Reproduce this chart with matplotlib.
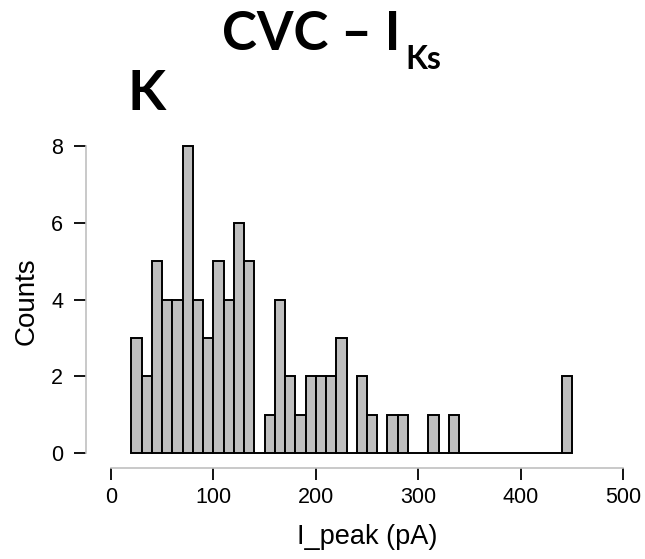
import numpy as np
import matplotlib.pyplot as plt

# histogram of peak current, 10 pA bins starting at 20 pA
bin_left = np.arange(20, 450, 10)
counts = [3, 2, 5, 4, 4, 8, 4, 3, 5, 4, 6, 5, 0, 1, 4, 2, 1, 2, 2, 2,
          3, 0, 2, 1, 0, 1, 1, 0, 0, 1, 0, 1, 0, 0, 0, 0, 0, 0, 0, 0,
          0, 0, 2]
x_ticks = [0, 100, 200, 300, 400, 500]
y_ticks = [0, 2, 4, 6, 8]

plt.rcParams['font.family'] = ['Liberation Sans', 'DejaVu Sans']

fig = plt.figure(figsize=(6.45, 5.59), dpi=100)
ax = fig.add_axes([86 / 645, 0.1628, 0.8643, 0.5966])

ax.bar(bin_left, counts, width=10, align='edge', color='#bebebe',
       edgecolor='black', linewidth=1.4)

ax.set_xlim(-24.4, 520)
ax.set_ylim(-0.39, 8.3)
ax.set_xticks(x_ticks)
ax.set_yticks(y_ticks)
ax.spines['top'].set_visible(False)
ax.spines['right'].set_visible(False)
ax.spines['bottom'].set_bounds(0, 500)
ax.spines['left'].set_bounds(0, 8)
for s in ('bottom', 'left'):
    ax.spines[s].set_color('#c0c0c0')
    ax.spines[s].set_linewidth(1.2)
ax.tick_params(length=8.5, width=1.3, color='black', labelsize=15.5, pad=5)
ax.tick_params(axis='y', pad=8)
ax.set_xlabel('I_peak (pA)', fontsize=19.5, labelpad=12)
ax.xaxis.label.set_x((250 + 24.4) / 544.4)
ax.set_ylabel('Counts', fontsize=20, labelpad=8)

# panel letter and title with subscript
tfont = ['Lato', 'DejaVu Sans']
fig.text(127 / 645, 1 - 110 / 559, 'K', fontsize=40, fontweight='bold',
         family=tfont, ha='left', va='baseline')
t = fig.text(222 / 645, 1 - 50 / 559, 'CVC \u2013 I', fontsize=38,
             fontweight='bold', family=tfont, ha='left', va='baseline')
fig.canvas.draw()
bb = t.get_window_extent()
fig.text(bb.x1 / 645 + 0.008, 1 - 69 / 559, 'Ks', fontsize=23,
         fontweight='bold', family=tfont, ha='left', va='baseline')

fig.savefig('out.png', dpi=100)
